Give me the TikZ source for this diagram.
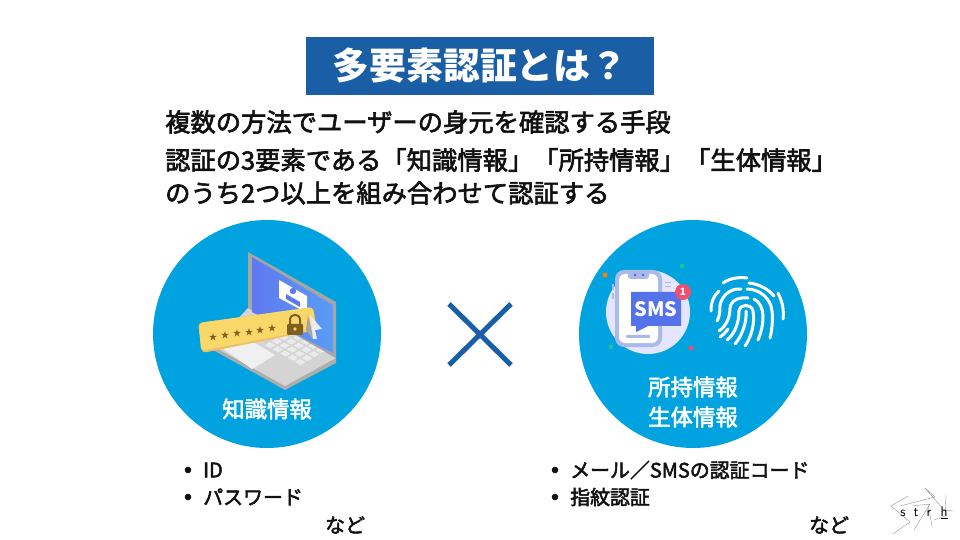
\documentclass[tikz,border=0pt]{standalone}
\usepackage{fontspec}
\setmainfont{Noto Sans CJK JP}
\newfontfamily\jpmed{Noto Sans CJK JP}[FakeBold=2.4]
\usepackage{tikz}
\usetikzlibrary{calc}
\definecolor{TitleBlue}{HTML}{1A5EA6}
\definecolor{CircleBlue}{HTML}{00A3E0}
\definecolor{BodyInk}{HTML}{111111}
\definecolor{BarGold}{HTML}{F9D769}
\definecolor{BarEdge}{HTML}{EDBE62}
\definecolor{LockBrown}{HTML}{7D5F22}
\definecolor{PhoneEdge}{HTML}{A9B9EA}
\definecolor{BubbleBlue}{HTML}{5472EA}
\definecolor{ScreenL}{HTML}{5F78F0}
\definecolor{ScreenR}{HTML}{5A9CF6}
\definecolor{BadgeRed}{HTML}{F0506E}
\definecolor{DotGreen}{HTML}{1FBF9C}
\tikzset{
  bodytext/.style={anchor=west,inner sep=0pt,text=BodyInk,font=\fontsize{25.4}{30}\selectfont\jpmed},
  listtext/.style={anchor=west,inner sep=0pt,text=BodyInk,font=\fontsize{20}{24}\selectfont\jpmed},
  circletext/.style={inner sep=0pt,text=white,font=\fontsize{22.5}{26}\selectfont\jpmed},
  ridge/.style={draw=white,line width=3bp,line cap=round},
  signline/.style={draw=black!45,line width=0.35bp},
  signtext/.style={inner sep=0pt,font=\fontsize{14}{16}\selectfont\sffamily},
}
\begin{document}
\begin{tikzpicture}[x=1bp,y=-1bp]
  \useasboundingbox (0,0) rectangle (960,540);
  \fill[white] (0,0) rectangle (960,540);
  \node[fill=TitleBlue,minimum width=348bp,minimum height=58bp,inner sep=0pt,text=white,font=\fontsize{37}{40}\selectfont\bfseries] (title) at (480,66) {多要素認証とは？};
  \node[bodytext] (lineA) at (165,122) {複数の方法でユーザーの身元を確認する手段};
  \node[bodytext] (lineB) at (165,160) {認証の3要素である「知識情報」「所持情報」「生体情報」};
  \node[bodytext] (lineC) at (165,193) {のうち2つ以上を組み合わせて認証する};
  \fill[CircleBlue] (267,334) circle (114);
  \fill[CircleBlue] (693,334) circle (114);
  % cross
  \draw[TitleBlue,line width=5bp] (449,304) -- (511,365);
  \draw[TitleBlue,line width=5bp] (511,304) -- (449,365);
  % laptop
  \fill[black!32] (248,308) -- (336,358) -- (336,363) -- (285,390) -- (213,350) -- (213,346) -- cycle;
  \fill[black!17] (248,308) -- (336,358) -- (285,386) -- (213,346) -- cycle;
  \fill[black!6] (222,348) -- (245,337) -- (275,355) -- (252,369) -- cycle;
  \foreach \i in {0,...,4}{
    \foreach \j in {0,...,4}{
      \fill[white!92!black] ($(265,345)+\i*(7.5,4.2)+\j*(6.8,-3.9)$) -- ++(5.5,3.1) -- ++(5,-2.9) -- ++(-5.5,-3.1) -- cycle;
    }
  }
  \fill[black!35] (248,252) -- (336,302) -- (336,358) -- (248,308) -- cycle;
  \shade[left color=ScreenL,right color=ScreenR] (252,257) -- (333,305) -- (333,353) -- (252,312) -- cycle;
  \fill[white] (279,280) -- (307,296) -- (307,313) -- (279,298) -- cycle;
  \fill[ScreenL] (293,291) circle (3.2);
  \fill[ScreenL] (286,294) -- (300,302) -- (300,307) -- (286,299) -- cycle;
  % password bar
  \fill[BarEdge,rounded corners=4bp] (198,323) -- (313,307) -- (317,330) -- (202,353) -- cycle;
  \fill[BarGold,rounded corners=4bp] (199,323) -- (313,307) -- (316,329) -- (201,351) -- cycle;
  \foreach \i/\sx/\sy in {1/213/337,2/225/335,3/237/333,4/249/332,5/260/330,6/272/328}{
    \node[inner sep=0pt,text=LockBrown,font=\fontsize{8.5}{10}\selectfont] (star\i) at (\sx,\sy) {★};
  }
  \draw[LockBrown,line width=2bp] (290,325) -- (290,320) .. controls (290,313) and (300,313) .. (300,320) -- (300,325);
  \fill[LockBrown,rounded corners=1bp] (287,324) rectangle (303,335);
  \fill[BarGold] (295,329) circle (1.8);
  % cursor
  \fill[black!35] (308,315) -- (306,330) -- (314,340) -- cycle;
  \fill[white!92!black] (310,315) -- (322,329) -- (315,330) -- (317,339) -- (313,339) -- cycle;
  % phone
  \fill[blue!10!white] (648,312) circle (42);
  \fill[PhoneEdge] (612,284) rectangle (614,290);
  \fill[PhoneEdge] (612,293) rectangle (614,299);
  \fill[PhoneEdge,rounded corners=9bp] (615,270) rectangle (662,347);
  \fill[white,rounded corners=6bp] (619,274) rectangle (658,343);
  \fill[PhoneEdge,rounded corners=3bp] (628,272) rectangle (649,279);
  \fill[blue!50!PhoneEdge] (635,275) circle (1.4);
  \fill[blue!50!PhoneEdge] (643,275) circle (1.4);
  \fill[PhoneEdge,rounded corners=1bp] (626,335) rectangle (650,338);
  \draw[PhoneEdge,line width=1bp] (665,283) -- (671,283) (665,287) -- (671,287);
  \fill[BubbleBlue] (631,292) -- (681,292) -- (681,326) -- (648,326) -- (636,332) -- (636,326) -- (631,326) -- cycle;
  \node[inner sep=0pt,text=white,font=\fontsize{20}{22}\selectfont\bfseries] (sms) at (656,309) {SMS};
  \node[circle,fill=BadgeRed,minimum size=16bp,inner sep=0pt,text=white,font=\fontsize{10}{12}\selectfont\bfseries] (badge) at (683,292) {1};
  \foreach \dx/\dy/\dc in {605/275/orange,682/266/DotGreen,611/347/DotGreen,691/348/BadgeRed}{
    \fill[\dc] (\dx,\dy) circle (2.5);
  }
  % fingerprint
  \draw[ridge] (711,311) .. controls (711,302) and (714,295) .. (719,291);
  \draw[ridge] (723,283) .. controls (730,278) and (739,277) .. (747,278);
  \draw[ridge] (749,283) .. controls (759,284) and (768,289) .. (774,296);
  \draw[ridge] (778,293) .. controls (783,303) and (784,311) .. (783,319);
  \draw[ridge] (717,321) .. controls (720,316) and (720,310) .. (720,305) .. controls (722,296) and (730,288) .. (741,289);
  \draw[ridge] (747,289) .. controls (760,289) and (771,299) .. (772,311) .. controls (773,320) and (772,330) .. (770,338);
  \draw[ridge] (719,331) .. controls (726,326) and (730,318) .. (730,308) .. controls (731,300) and (739,297) .. (748,298);
  \draw[ridge] (754,299) .. controls (760,302) and (763,309) .. (763,316) .. controls (763,325) and (761,333) .. (758,340);
  \draw[ridge] (720,337) .. controls (723,335) and (726,332) .. (728,329);
  \draw[ridge] (727,340) .. controls (735,334) and (739,322) .. (739,311) .. controls (740,304) and (751,303) .. (753,311) .. controls (755,322) and (752,336) .. (745,346);
  \draw[ridge] (735,344) .. controls (742,336) and (747,322) .. (746,311);
  % labels
  \node[circletext] (knowA) at (267,409) {知識情報};
  \node[circletext] (ownA) at (693,387) {所持情報};
  \node[circletext] (ownB) at (693,417) {生体情報};
  \foreach \bx/\by in {188/470,188/497,555/470,555/497}{
    \fill[BodyInk] (\bx,\by) circle (3.3);
  }
  \node[listtext] (itemA) at (203,470) {ID};
  \node[listtext] (itemB) at (203,497) {パスワード};
  \node[listtext] (etcA) at (325,525) {など};
  \node[listtext] (itemC) at (570,470) {メール／SMSの認証コード};
  \node[listtext] (itemD) at (570,497) {指紋認証};
  \node[listtext] (etcB) at (809,525) {など};
  % sign
  \draw[signline] (908,496) -- (891,506) -- (910,522) -- (893,534);
  \draw[signline] (900,506) -- (935,497) -- (925,488) -- (944,510) -- (953,511);
  \draw[signline] (912,506) -- (930,504) -- (914,530);
  \draw[signline] (928,504) -- (932,526);
  \draw[signline] (934,520) -- (945,516) -- (946,495);
  \node[signtext] (signS) at (903,513) {s};
  \node[signtext] (signT) at (916,513) {t};
  \node[signtext] (signR) at (929,513) {r};
  \node[signtext] (signH) at (944,513) {\underline{h}};
\end{tikzpicture}
\end{document}
